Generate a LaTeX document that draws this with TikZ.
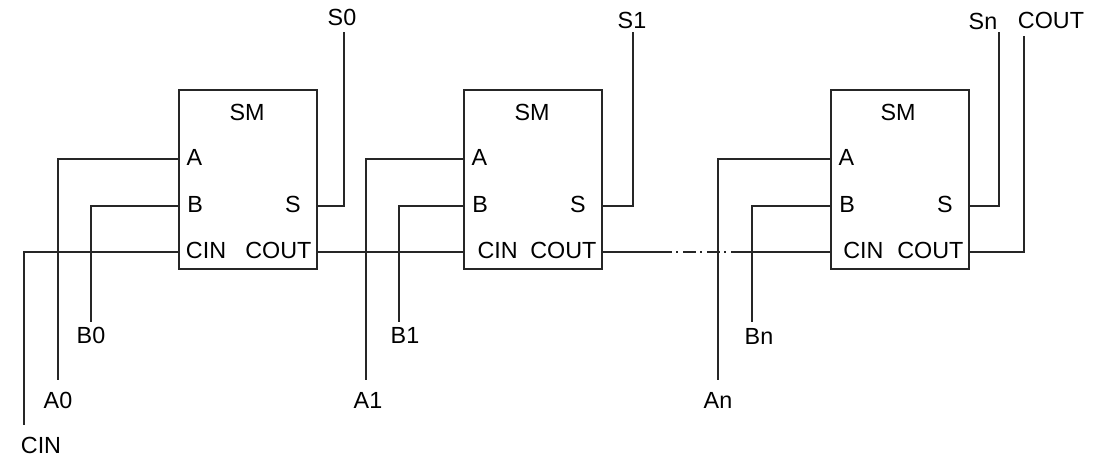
\documentclass[tikz,border=0pt]{standalone}
\usepackage{fontspec}
\setmainfont{Liberation Sans}
\usetikzlibrary{positioning}

\begin{document}
\begin{tikzpicture}[
  x=0.75pt, y=-0.75pt,
  wire/.style    = {line width=1.9pt, black!85},
  thinwire/.style= {line width=0.8pt, black!85},
  breakwire/.style = {thinwire, dash pattern=on 10pt off 3pt on 1.2pt off 3.8pt},
  smbox/.style   = {draw, line width=1.9pt, black!85, rectangle, inner sep=0pt,
                    minimum width=103.5pt, minimum height=134.25pt},
  lbl/.style     = {font=\fontsize{17.5}{19}\selectfont, black, inner sep=0pt},
  pinlbl/.style  = {lbl, yshift=1.3pt},
]
\useasboundingbox (0,0) rectangle (1093,456);

%% ------------------------------------------------------------------ BLOCKS
\foreach \n/\x/\c/\t in {0/248/5pt/247, 1/533/10pt/532, n/900/9pt/898}
{
  \node[smbox] (sm\n) at (\x,179.5) {};
  \node[lbl] (title\n) at (\t,112) {SM};

  % pins on the box sides
  \coordinate (a\n)    at (\x-69,159);
  \coordinate (b\n)    at (\x-69,206);
  \coordinate (cin\n)  at (\x-69,252);
  \coordinate (s\n)    at (\x+69,206);
  \coordinate (cout\n) at (\x+69,252);

  \node[pinlbl, right=5.5pt of a\n]  (la\n)    {A};
  \node[pinlbl, right=6pt of b\n]    (lb\n)    {B};
  \node[pinlbl, right=\c of cin\n]   (lcin\n)  {CIN};
  \node[pinlbl, left=12pt of s\n]    (ls\n)    {S};
  \node[pinlbl, left=4pt of cout\n]  (lcout\n) {COUT};
}

%% ------------------------------------------------------------------ FREE ENDS
\coordinate (endcin) at (24,425);
\foreach \n/\xa/\xb/\xs in {0/58/91/344, 1/366/399/633, n/718/752/999}
{
  \coordinate (enda\n) at (\xa,380);
  \coordinate (endb\n) at (\xb,322);
  \coordinate (ends\n) at (\xs,32);
}
\coordinate (endcout) at (1024,36);

%% ------------------------------------------------------------------ WIRES
\foreach \n in {0,1,n}
{
  \draw[wire] (a\n) -| (enda\n);
  \draw[wire] (b\n) -| (endb\n);
  \draw[wire] (s\n) -| (ends\n);
}
\draw[wire] (cin0) -| (endcin);
\draw[wire] (coutn) -| (endcout);

% link 0 -> 1
\coordinate (linka) at (368,252);
\coordinate (linkb) at (410,252);
\draw[wire] (cout0) -- (linka);
\draw[thinwire] (linka) -- (linkb);
\draw[wire] (linkb) -- (cin1);

% broken link 1 -> n
\coordinate (brka) at (659,252);
\coordinate (brkb) at (734,252);
\coordinate (brkc) at (776,252);
\draw[wire] (cout1) -- (brka);
\draw[breakwire] (brka) -- (brkb);
\draw[thinwire] (brkb) -- (brkc);
\draw[wire] (brkc) -- (cinn);

%% ------------------------------------------------------------------ END LABELS
\node[lbl] (lblcin) at (41,445) {CIN};
\node[lbl] (lbla0) at (58,400) {A0};
\node[lbl] (lblb0) at (91,335) {B0};
\node[lbl] (lbla1) at (368,400) {A1};
\node[lbl] (lblb1) at (405,335) {B1};
\node[lbl] (lblan) at (718,400) {An};
\node[lbl] (lblbn) at (759,336) {Bn};
\node[lbl] (lbls0) at (342,17) {S0};
\node[lbl] (lbls1) at (632,20) {S1};
\node[lbl] (lblsn) at (983,21) {Sn};
\node[lbl] (lblcout) at (1051,20) {COUT};

\end{tikzpicture}
\end{document}
